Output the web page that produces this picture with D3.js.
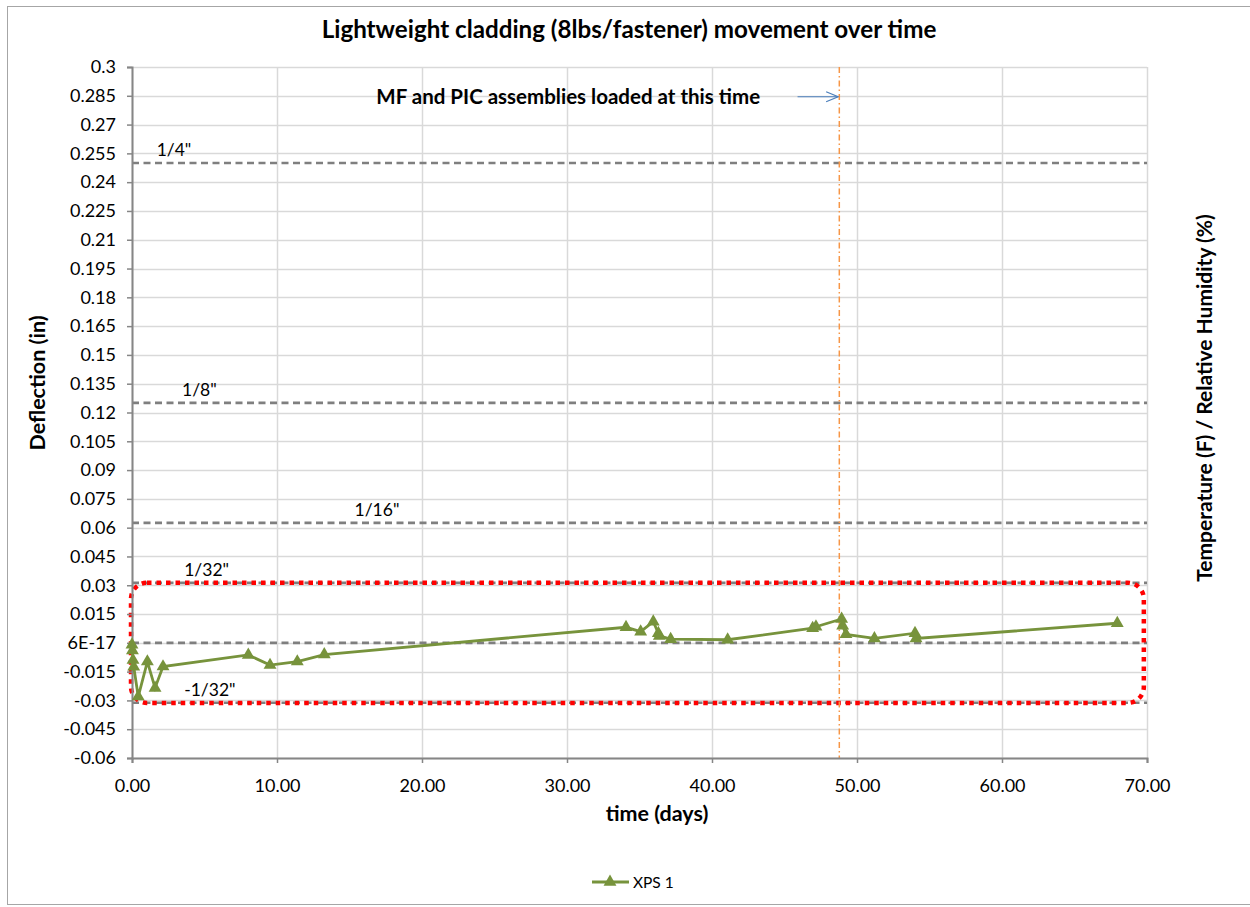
<!DOCTYPE html>
<html>
<head>
<meta charset="utf-8">
<script src="https://cdn.jsdelivr.net/npm/d3@7"></script>
<style>
  body { margin: 0; background: #fff; }
  text { font-family: Lato, "Open Sans", sans-serif; fill: #000; }
</style>
</head>
<body>
<div id="chart"></div>
<script>
// series XPS 1: time (days) and deflection (in)
var days = [0, 0.03, 0.07, 0.12, 0.43, 1.06, 1.59, 2.14, 8.02, 9.52, 11.4, 13.26,
            34.07, 35.08, 35.95, 36.3, 36.37, 37.15, 41.08,
            46.94, 47.17, 48.94, 49.01, 49.24, 51.2, 54.0, 54.07, 67.95];
var deflection = [-0.001, -0.004, -0.009, -0.0125, -0.028, -0.0098, -0.0235, -0.0124,
                  -0.0063, -0.0116, -0.0098, -0.0061,
                  0.0081, 0.0058, 0.011, 0.005, 0.0036, 0.0019, 0.0016,
                  0.0076, 0.0084, 0.0124, 0.0089, 0.0044, 0.0023, 0.005, 0.0023, 0.0102];

var yTicks = [0.3, 0.285, 0.27, 0.255, 0.24, 0.225, 0.21, 0.195, 0.18, 0.165, 0.15, 0.135,
              0.12, 0.105, 0.09, 0.075, 0.06, 0.045, 0.03, 0.015, 0, -0.015, -0.03, -0.045, -0.06];
var xTicks = [0, 10, 20, 30, 40, 50, 60, 70];

// reference lines
var refValues = [0.25, 0.125, 0.0625, 0.03125, 0, -0.03125];
var refLabels = ['1/4"', '1/8"', '1/16"', '1/32"', '', '-1/32"'];
var refLabelDays = [1.7, 3.45, 15.35, 3.6, 0, 3.6];

var loadDay = 48.78;
var noteText = "MF and PIC assemblies loaded at this time";

var width = 1250, height = 907;
var margin = {top: 67, right: 103, bottom: 149, left: 132};
var w = width - margin.left - margin.right;
var h = height - margin.top - margin.bottom;

var x = d3.scaleLinear().domain([0, 70]).range([0, w]);
var y = d3.scaleLinear().domain([-0.06, 0.3]).range([h, 0]);

var root = d3.select("#chart").append("svg")
    .attr("width", width)
    .attr("height", height);

root.append("rect")
    .attr("x", 7.5).attr("y", 6.5)
    .attr("width", 1300).attr("height", 898)
    .attr("fill", "none")
    .attr("stroke", "#a6a6a6");

root.append("text")
    .attr("x", 629).attr("y", 38)
    .attr("text-anchor", "middle")
    .style("font-size", "24.2px")
    .style("font-weight", "bold")
    .text("Lightweight cladding (8lbs/fastener) movement over time");

var svg = root.append("g")
    .attr("transform", "translate(" + margin.left + "," + margin.top + ")");

// gridlines
svg.append("g").selectAll("line.h")
    .data(yTicks).enter().append("line")
    .attr("x1", 0).attr("x2", w)
    .attr("y1", function(d) { return Math.round(y(d)) + 0.5; })
    .attr("y2", function(d) { return Math.round(y(d)) + 0.5; })
    .attr("stroke", "#d9d9d9").attr("stroke-width", 1.5);

svg.append("g").selectAll("line.v")
    .data(xTicks).enter().append("line")
    .attr("y1", 0).attr("y2", h)
    .attr("x1", function(d) { return Math.round(x(d)) + 0.5; })
    .attr("x2", function(d) { return Math.round(x(d)) + 0.5; })
    .attr("stroke", "#d9d9d9").attr("stroke-width", 1.5);

// dashed reference lines
svg.append("g").selectAll("line")
    .data(refValues).enter().append("line")
    .attr("x1", 0).attr("x2", w)
    .attr("y1", function(d) { return y(d); })
    .attr("y2", function(d) { return y(d); })
    .attr("stroke", "#7f7f7f")
    .attr("stroke-width", 2.6)
    .attr("stroke-dasharray", "7,4.5");

svg.append("g").selectAll("text")
    .data(refValues).enter().append("text")
    .attr("x", function(d, i) { return x(refLabelDays[i]); })
    .attr("y", function(d) { return y(d) - 7; })
    .style("font-size", "17.5px")
    .text(function(d, i) { return refLabels[i]; });

// red dotted rounded box around the data
var boxDays = [0, 69.85];
var boxVals = [0.0313, -0.0313];
svg.append("rect")
    .attr("x", x(boxDays[0]) - 1)
    .attr("y", y(boxVals[0]))
    .attr("width", x(boxDays[1]) - x(boxDays[0]))
    .attr("height", y(boxVals[1]) - y(boxVals[0]))
    .attr("rx", 16).attr("ry", 16)
    .attr("fill", "none")
    .attr("stroke", "#ff0000")
    .attr("stroke-width", 4.5)
    .attr("stroke-dasharray", "4.5,5");

// loading time line
svg.append("line")
    .attr("x1", x(loadDay)).attr("x2", x(loadDay))
    .attr("y1", 0).attr("y2", h)
    .attr("stroke", "#f79646")
    .attr("stroke-width", 1.5)
    .attr("stroke-dasharray", "6,3,1.5,3");

svg.append("text")
    .attr("x", x(16.85))
    .attr("y", y(0.2845) + 7)
    .style("font-size", "20.5px")
    .style("font-weight", "bold")
    .text(noteText);

var arrowY = y(0.2845);
var ax1 = x(45.9), ax2 = x(48.7);
svg.append("line")
    .attr("x1", ax1).attr("x2", ax2)
    .attr("y1", arrowY).attr("y2", arrowY)
    .attr("stroke", "#4a7ebb").attr("stroke-width", 1.2);
svg.append("path")
    .attr("d", "M" + (ax2 - 12) + "," + (arrowY - 5) + "L" + ax2 + "," + arrowY + "L" + (ax2 - 12) + "," + (arrowY + 5))
    .attr("fill", "none")
    .attr("stroke", "#4a7ebb").attr("stroke-width", 1.2);

// axes
var yAxis = d3.axisLeft(y).tickValues(yTicks).tickSize(5).tickPadding(11)
    .tickFormat(function(d) { return d === 0 ? "6E-17" : String(+d.toFixed(3)); });
var yg = svg.append("g").call(yAxis);
yg.select(".domain").attr("stroke", "#868686").attr("stroke-width", 2);
yg.selectAll(".tick line").attr("stroke", "#868686").attr("stroke-width", 1.5);
yg.selectAll(".tick text").style("font-size", "18px").style("font-family", "Lato, sans-serif").attr("fill", "#000");

var xAxis = d3.axisBottom(x).tickValues(xTicks).tickSize(5).tickPadding(16)
    .tickFormat(d3.format(".2f"));
var xg = svg.append("g").attr("transform", "translate(0," + h + ")").call(xAxis);
xg.select(".domain").attr("stroke", "#868686").attr("stroke-width", 2);
xg.selectAll(".tick line").attr("stroke", "#868686").attr("stroke-width", 1.5);
xg.selectAll(".tick text").style("font-size", "18px").style("font-family", "Lato, sans-serif").attr("fill", "#000");

// series
var pts = days.map(function(d, i) { return {t: d, v: deflection[i]}; });
var line = d3.line()
    .x(function(d) { return x(d.t); })
    .y(function(d) { return y(d.v); });

svg.append("path")
    .datum(pts)
    .attr("fill", "none")
    .attr("stroke", "#77933c")
    .attr("stroke-width", 2.8)
    .attr("d", line);

var tri = d3.symbol().type(d3.symbolTriangle).size(72);
svg.selectAll("path.dot")
    .data(pts).enter().append("path")
    .attr("class", "dot")
    .attr("transform", function(d) { return "translate(" + x(d.t) + "," + y(d.v) + ")"; })
    .attr("d", tri)
    .attr("fill", "#77933c");

// axis titles
root.append("text")
    .attr("transform", "translate(45,383) rotate(-90)")
    .attr("text-anchor", "middle")
    .style("font-size", "21.5px")
    .style("font-weight", "bold")
    .text("Deflection (in)");

root.append("text")
    .attr("transform", "translate(1212,398) rotate(-90)")
    .attr("text-anchor", "middle")
    .style("font-size", "21px")
    .style("font-weight", "bold")
    .text("Temperature (F) / Relative Humidity (%)");

root.append("text")
    .attr("x", 657).attr("y", 821)
    .attr("text-anchor", "middle")
    .style("font-size", "21.5px")
    .style("font-weight", "bold")
    .text("time (days)");

// legend
var lg = root.append("g").attr("transform", "translate(592,882)");
lg.append("line").attr("x1", 0).attr("x2", 37).attr("y1", 0).attr("y2", 0)
    .attr("stroke", "#77933c").attr("stroke-width", 2.8);
lg.append("path").attr("transform", "translate(18,0)").attr("d", tri).attr("fill", "#77933c");
lg.append("text").attr("x", 41).attr("y", 5.5).style("font-size", "15.5px").text("XPS 1");
</script>
</body>
</html>
